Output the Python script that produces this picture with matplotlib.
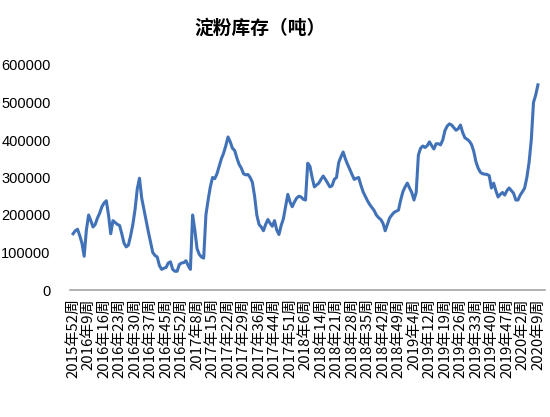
import matplotlib
matplotlib.use("Agg")
import matplotlib.pyplot as plt

title = "淀粉库存（吨）"

tick_labels = [
    "2015年52周", "2016年9周", "2016年16周", "2016年23周", "2016年30周", "2016年37周",
    "2016年45周", "2016年52周", "2017年8周", "2017年15周", "2017年22周", "2017年29周",
    "2017年36周", "2017年44周", "2017年51周", "2018年6周", "2018年14周", "2018年21周",
    "2018年28周", "2018年35周", "2018年42周", "2018年49周", "2019年4周", "2019年12周",
    "2019年19周", "2019年26周", "2019年33周", "2019年40周", "2019年47周", "2020年2周",
    "2020年9周",
]

stock = [
    150000, 158000, 162000, 145000, 125000, 90000, 160000, 200000, 185000, 168000,
    175000, 192000, 205000, 222000, 232000, 238000, 200000, 150000, 185000, 180000,
    175000, 172000, 150000, 125000, 115000, 120000, 145000, 175000, 215000, 270000,
    298000, 245000, 215000, 185000, 155000, 128000, 100000, 92000, 88000, 65000,
    55000, 58000, 60000, 72000, 75000, 55000, 50000, 50000, 68000, 72000,
    73000, 78000, 65000, 55000, 200000, 160000, 110000, 95000, 88000, 85000,
    200000, 240000, 275000, 300000, 297000, 310000, 330000, 350000, 365000, 385000,
    408000, 395000, 378000, 372000, 352000, 335000, 325000, 310000, 307000, 308000,
    300000, 287000, 250000, 200000, 175000, 168000, 158000, 175000, 188000, 178000,
    170000, 185000, 160000, 148000, 172000, 190000, 222000, 255000, 235000, 222000,
    235000, 245000, 250000, 248000, 242000, 240000, 338000, 330000, 300000, 275000,
    280000, 285000, 295000, 304000, 295000, 285000, 275000, 278000, 295000, 300000,
    340000, 355000, 368000, 350000, 335000, 322000, 308000, 295000, 298000, 300000,
    280000, 262000, 250000, 238000, 228000, 220000, 212000, 200000, 193000, 188000,
    178000, 158000, 175000, 192000, 200000, 207000, 210000, 213000, 240000, 262000,
    275000, 285000, 272000, 260000, 240000, 260000, 360000, 378000, 384000, 380000,
    385000, 395000, 385000, 376000, 390000, 390000, 387000, 400000, 425000, 437000,
    443000, 440000, 433000, 426000, 430000, 440000, 420000, 406000, 402000, 397000,
    388000, 370000, 342000, 325000, 314000, 310000, 309000, 308000, 305000, 272000,
    285000, 265000, 248000, 255000, 260000, 253000, 265000, 272000, 265000, 258000,
    240000, 240000, 253000, 262000, 272000, 300000, 340000, 400000, 500000, 520000,
    547000,
]

y_ticks = [0, 100000, 200000, 300000, 400000, 500000, 600000]

W, H = 550, 417
fig = plt.figure(figsize=(W / 100, H / 100), dpi=100)
ax = fig.add_axes([70 / W, (H - 290) / H, 475 / W, 225 / H])

x = list(range(len(stock)))
ax.plot(x, stock, color="#4172B8", lw=2.2, solid_joinstyle="round")

ax.set_xlim(-1.4, len(stock) - 1 + 3.2)
ax.set_ylim(0, 600000)
ax.set_yticks(y_ticks)
ax.set_yticklabels([str(v) for v in y_ticks], fontsize=10.5, family="Liberation Sans")
ax.set_xticks(list(range(0, len(stock), 7)))
ax.set_xticklabels(tick_labels, rotation=90, fontsize=10.8,
                   family=["Noto Sans CJK SC", "DejaVu Sans"])
ax.tick_params(axis="y", length=0, pad=14)
ax.tick_params(axis="x", length=0, pad=6)
for s in ("top", "right", "left"):
    ax.spines[s].set_visible(False)
ax.spines["bottom"].set_color("#A6A6A6")
ax.spines["bottom"].set_linewidth(1.2)

fig.text(260 / W, 1 - 28 / H, title, ha="center", va="center", fontsize=13.5,
         fontweight="bold", family=["Noto Sans CJK SC", "DejaVu Sans"])

fig.savefig("out.png", dpi=100, facecolor="white")
